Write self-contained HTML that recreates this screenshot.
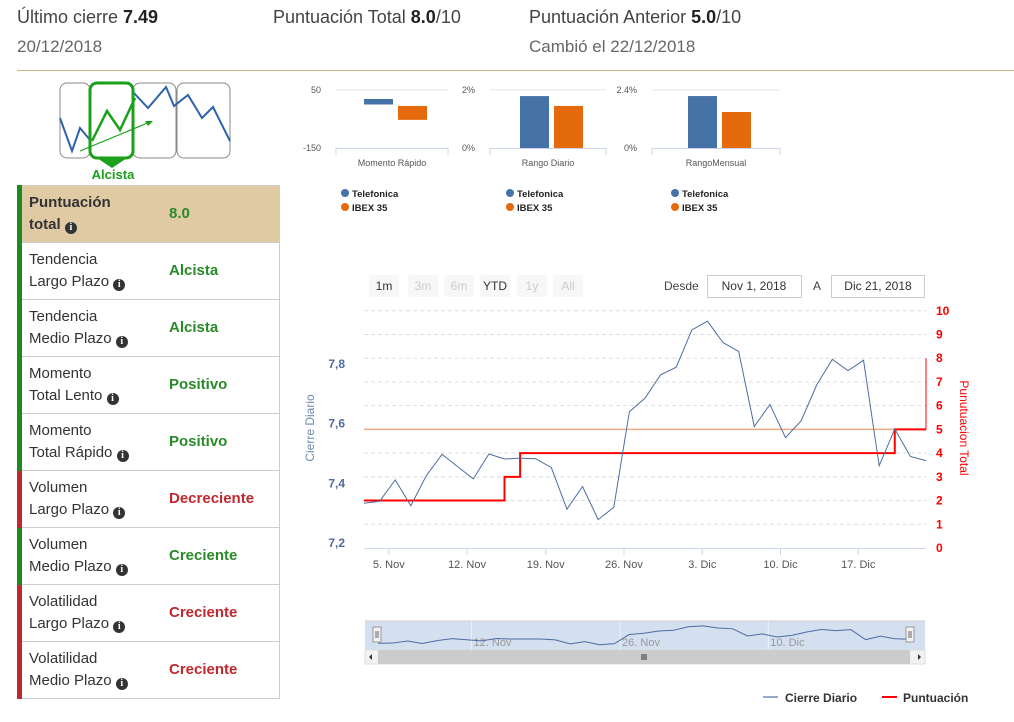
<!DOCTYPE html>
<html><head><meta charset="utf-8">
<style>
body{margin:0;width:1014px;height:722px;background:#fff;font-family:"Liberation Sans","DejaVu Sans",sans-serif;color:#444;position:relative;overflow:hidden}
.h{position:absolute;font-size:18px;color:#444}
.h b{color:#222}
.sub{position:absolute;font-size:17px;color:#666}
table{position:absolute;left:17px;top:185px;border-collapse:collapse;width:263px}
td{height:56px;border-top:1px solid #ccc;border-bottom:1px solid #ccc;font-size:15px;line-height:22px;padding:0;color:#333}
td.lab{width:140px;padding-left:7px}
td.lab div{width:128px}
td.v{font-weight:bold;color:#2a8a2a;border-right:1px solid #ccc}
td.v.red{color:#c0282d}
tr.g td.lab{border-left:5px solid #1e8a1e}
tr.r td.lab{border-left:5px solid #c0282d}
tr.top td{background:#dfcaa4;font-weight:bold}
.i{display:inline-block;width:12px;height:12px;border-radius:50%;background:#333;color:#fff;font-size:10px;line-height:12px;text-align:center;font-weight:bold;font-family:"Liberation Serif",serif;vertical-align:-1px}
</style></head><body>
<div class="h" style="left:17px;top:7px">Último cierre <b>7.49</b></div>
<div class="sub" style="left:17px;top:37px">20/12/2018</div>
<div class="h" style="left:273px;top:7px">Puntuación Total <b>8.0</b>/10</div>
<div class="h" style="left:529px;top:7px">Puntuación Anterior <b>5.0</b>/10</div>
<div class="sub" style="left:529px;top:37px">Cambió el 22/12/2018</div>
<div style="position:absolute;left:17px;top:70px;width:997px;height:1px;background:#c9b48a"></div>

<svg style="position:absolute;left:55px;top:78px" width="185" height="105">
<rect x="5" y="5" width="30" height="75" rx="7" fill="none" stroke="#888"/>
<rect x="78" y="5" width="43" height="75" rx="7" fill="none" stroke="#888"/>
<rect x="122" y="5" width="53" height="75" rx="7" fill="none" stroke="#888"/>
<polyline points="5,40 17,73 25,50 35,62" fill="none" stroke="#2d63ab" stroke-width="2"/>
<polyline points="78,14 93,30 111,9 119,28 133,17 147,40 158,29 175,63" fill="none" stroke="#2d63ab" stroke-width="2"/>
<rect x="35" y="5" width="43" height="75" rx="7" fill="none" stroke="#1aa01a" stroke-width="3"/>
<polyline points="37,63 52,33 65,52 80,20" fill="none" stroke="#1aa01a" stroke-width="2.5"/>
<line x1="25" y1="73" x2="95" y2="44" stroke="#1aa01a" stroke-width="1.2"/>
<polygon points="98,43 90,43 93,48" fill="#1aa01a"/>
<polygon points="42,80 72,80 57,90" fill="#1aa01a"/>
<text x="58" y="101" text-anchor="middle" fill="#1aa01a" font-weight="bold" font-size="13">Alcista</text>
</svg>

<table>
<tr class="top g"><td class="lab"><div>Puntuación<br>total <span class="i">i</span></div></td><td class="v">8.0</td></tr>
<tr class="g"><td class="lab"><div>Tendencia<br>Largo Plazo <span class="i">i</span></div></td><td class="v">Alcista</td></tr>
<tr class="g"><td class="lab"><div>Tendencia<br>Medio Plazo <span class="i">i</span></div></td><td class="v">Alcista</td></tr>
<tr class="g"><td class="lab"><div>Momento<br>Total Lento <span class="i">i</span></div></td><td class="v">Positivo</td></tr>
<tr class="g"><td class="lab"><div>Momento<br>Total Rápido <span class="i">i</span></div></td><td class="v">Positivo</td></tr>
<tr class="r"><td class="lab"><div>Volumen<br>Largo Plazo <span class="i">i</span></div></td><td class="v red">Decreciente</td></tr>
<tr class="g"><td class="lab"><div>Volumen<br>Medio Plazo <span class="i">i</span></div></td><td class="v">Creciente</td></tr>
<tr class="r"><td class="lab"><div>Volatilidad<br>Largo Plazo <span class="i">i</span></div></td><td class="v red">Creciente</td></tr>
<tr class="r"><td class="lab"><div>Volatilidad<br>Medio Plazo <span class="i">i</span></div></td><td class="v red">Creciente</td></tr>
</table>

<svg id="s" style="position:absolute;left:0;top:0" width="1014" height="722" font-family="Liberation Sans, DejaVu Sans, sans-serif"></svg>

<script>
// small bar charts data
const miniNames = ["Momento Rápido","Rango Diario","RangoMensual"];
const miniTop = [50, 2, 2.4];
const miniBottom = [-150, 0, 0];
const miniTopLabel = ["50","2%","2.4%"];
const miniBottomLabel = ["-150","0%","0%"];
const teleLow = [0, 0, 0];
const teleHigh = [19, 1.79, 2.15];
const ibexLow = [-53, 0, 0];
const ibexHigh = [-5, 1.45, 1.49];

// main chart data
const dates = ["1 Nov","2 Nov","5 Nov","6 Nov","7 Nov","8 Nov","9 Nov","12 Nov","13 Nov","14 Nov","15 Nov","16 Nov","19 Nov","20 Nov","21 Nov","22 Nov","23 Nov","26 Nov","27 Nov","28 Nov","29 Nov","30 Nov","3 Dic","4 Dic","5 Dic","6 Dic","7 Dic","10 Dic","11 Dic","12 Dic","13 Dic","14 Dic","17 Dic","18 Dic","19 Dic","20 Dic","21 Dic"];
const price = [7.342,7.348,7.416,7.334,7.430,7.497,7.458,7.419,7.498,7.482,7.485,7.483,7.455,7.323,7.395,7.290,7.329,7.632,7.675,7.749,7.773,7.891,7.919,7.851,7.823,7.585,7.655,7.550,7.603,7.717,7.798,7.762,7.795,7.461,7.577,7.490,7.477];
const score = [2,2,2,2,2,2,2,2,2,3,4,4,4,4,4,4,4,4,4,4,4,4,4,4,4,4,4,4,4,4,4,4,4,4,5,5,8];
const prevScore = 5;
const tickLabels = ["5. Nov","12. Nov","19. Nov","26. Nov","3. Dic","10. Dic","17. Dic"];
const tickIdx = [1.59,6.6,11.64,16.65,21.67,26.68,31.66];
const leftTicks = [7.2,7.4,7.6,7.8];
const rightTicks = [0,1,2,3,4,5,6,7,8,9,10];

const S=document.getElementById('s');
const NS="http://www.w3.org/2000/svg";
function el(t,a,txt){const e=document.createElementNS(NS,t);for(const k in a)e.setAttribute(k,a[k]);if(txt!=null)e.textContent=txt;S.appendChild(e);return e;}

// mini charts
const mx=[336,490,652], mw=[112,116,128];
miniNames.forEach((n,k)=>{
  const x0=mx[k], w=mw[k];
  const y=v=>90+(miniTop[k]-v)/(miniTop[k]-miniBottom[k])*58;
  let e=el('line',{x1:x0,x2:x0+w,y1:90,y2:90,stroke:'#e6e6e6'});
  
  e=el('line',{x1:x0,x2:x0+w,y1:148.5,y2:148.5,stroke:'#ccd6eb'});
  
  el('line',{x1:x0,x2:x0,y1:148,y2:155,stroke:'#ccd6eb'});
  el('line',{x1:x0+w,x2:x0+w,y1:148,y2:155,stroke:'#ccd6eb'});
  e=el('text',{x:x0-15,y:93,'text-anchor':'end','font-size':9,fill:'#555'},miniTopLabel[k]);
  
  e=el('text',{x:x0-15,y:151,'text-anchor':'end','font-size':9,fill:'#555'},miniBottomLabel[k]);
  
  const bx=x0+w/2-28;
  e=el('rect',{x:bx,y:y(teleHigh[k]),width:29,height:y(teleLow[k])-y(teleHigh[k]),fill:'#4572a7'});
  
  e=el('rect',{x:bx+34,y:y(ibexHigh[k]),width:29,height:y(ibexLow[k])-y(ibexHigh[k]),fill:'#e46a0c'});
  
  e=el('text',{x:x0+w/2,y:166,'text-anchor':'middle','font-size':9,fill:'#555'},n);
  
  const lx=[345,510,675][k];
  el('circle',{cx:lx,cy:193,r:4,fill:'#4572a7'});
  e=el('text',{x:lx+7,y:197,'font-size':9.5,'font-weight':'bold',fill:'#222'},'Telefonica');
  
  el('circle',{cx:lx,cy:207,r:4,fill:'#e46a0c'});
  e=el('text',{x:lx+7,y:211,'font-size':9.5,'font-weight':'bold',fill:'#222'},'IBEX 35');
  
});

// range selector
const rb=[["1m",369,true],["3m",408,false],["6m",444,false],["YTD",480,true],["1y",517,false],["All",553,false]];
rb.forEach(b=>{
  let r=el('rect',{x:b[1],y:275,width:30,height:22,fill:'#f7f7f7',rx:2});
  
  el('text',{x:b[1]+15,y:290,'text-anchor':'middle','font-size':12,fill:b[2]?'#333':'#ccc'},b[0]);
});
let t=el('text',{x:664,y:290,'font-size':12,fill:'#444'},'Desde');

t=el('rect',{x:707.5,y:275.5,width:94,height:22,fill:'#fff',stroke:'#ccc'});

el('text',{x:754,y:290,'text-anchor':'middle','font-size':12,fill:'#333'},'Nov 1, 2018');
t=el('text',{x:813,y:290,'font-size':12,fill:'#444'},'A');

t=el('rect',{x:831.5,y:275.5,width:93,height:22,fill:'#fff',stroke:'#ccc'});

el('text',{x:878,y:290,'text-anchor':'middle','font-size':12,fill:'#333'},'Dic 21, 2018');

// main chart scales
const L=364,R=926,n=dates.length;
const xs=i=>L+i*(R-L)/(n-1);
const yl=v=>548-(v-7.2)*315.5;
const ylab=v=>546-(v-7.2)*298.5;
const yr=s=>548-s*23.72;
rightTicks.forEach(s=>{
  if(s>0){let g=el('line',{x1:L,x2:R,y1:yr(s),y2:yr(s),stroke:'#ddd','stroke-dasharray':'4,3'});
  }
  let e=el('text',{x:936,y:yr(s)+4,'font-size':12,'font-weight':'bold',fill:'#f00'},String(s));
  
});
leftTicks.forEach(v=>{
  let e=el('text',{x:345,y:ylab(v)+1,'text-anchor':'end','font-size':12,'font-weight':'bold',fill:'#4d6d99'},v.toFixed(1).replace('.',','));
  
});
let a=el('line',{x1:L,x2:R,y1:548.5,y2:548.5,stroke:'#ccd6eb'});

tickLabels.forEach((lb,k)=>{
  const x=xs(tickIdx[k]);
  el('line',{x1:x,x2:x,y1:548,y2:555,stroke:'#ccd6eb'});
  let e=el('text',{x:x,y:568,'text-anchor':'middle','font-size':11,fill:'#555'},lb);
  
});
a=el('text',{transform:'translate(314,428) rotate(-90)','text-anchor':'middle','font-size':12,fill:'#6c8ab0'},'Cierre Diario');

a=el('text',{transform:'translate(960,428) rotate(90)','text-anchor':'middle','font-size':12,fill:'#f00'},'Punutuacion Total');


// previous score line
a=el('line',{x1:L,x2:R,y1:yr(prevScore),y2:yr(prevScore),stroke:'#eeaa80','stroke-width':1.5});


// score step line
let d='M'+xs(0)+','+yr(score[0]);
for(let i=1;i<n-1;i++){ d+=' L'+xs(i)+','+yr(score[i-1])+' L'+xs(i)+','+yr(score[i]); }
d+=' L'+xs(n-1)+','+yr(score[n-2]);
a=el('path',{d:d,fill:'none',stroke:'#f00','stroke-width':2});

a=el('line',{x1:xs(n-1),x2:xs(n-1),y1:yr(score[n-2]),y2:yr(score[n-1]),stroke:'#f00','stroke-width':1});


// price line
a=el('polyline',{points:price.map((v,i)=>xs(i)+','+yl(v)).join(' '),fill:'none',stroke:'#4d6d9f','stroke-width':1});


// navigator
const NL=365,NR=925,NT=621,NB=650;
a=el('rect',{x:NL,y:NT,width:NR-NL,height:NB-NT,fill:'#d4dff0'});

el('line',{x1:NL,x2:NR,y1:NT,y2:NT,stroke:'#ccc'});
const nx=i=>378+i*(910-378)/(n-1);
const ny=v=>646-(v-7.25)*30;
['12. Nov','26. Nov','10. Dic'].forEach((lb,k)=>{
  const x=nx([6.6,16.65,26.68][k])-4;
  el('line',{x1:x,x2:x,y1:NT,y2:NB,stroke:'#fff','stroke-opacity':0.6});
  el('text',{x:x+2,y:646,'font-size':11,fill:'#999'},lb);
});
a=el('polyline',{points:price.map((v,i)=>nx(i)+','+ny(v)).join(' '),fill:'none',stroke:'#4d6d9f','stroke-width':1});

[377,910].forEach(x=>{
  let h=el('rect',{x:x-4,y:627,width:8,height:15,fill:'#f2f2f2',stroke:'#999'});
  
  el('line',{x1:x-1,x2:x-1,y1:631,y2:638,stroke:'#666'});el('line',{x1:x+1,x2:x+1,y1:631,y2:638,stroke:'#666'});
});
a=el('rect',{x:NL,y:650,width:NR-NL,height:14,fill:'#f2f2f2',stroke:'#ddd'});

el('rect',{x:378,y:650,width:532,height:14,fill:'#ccc'});
el('polygon',{points:'369,657 372,654 372,660',fill:'#333'});
el('polygon',{points:'921,657 918,654 918,660',fill:'#333'});
['642','644','646'].forEach(x=>el('line',{x1:x,x2:x,y1:654,y2:660,stroke:'#333'}));

// legend
el('line',{x1:763,x2:778,y1:697,y2:697,stroke:'#97a9c9','stroke-width':2});
a=el('text',{x:785,y:702,'font-size':12,'font-weight':'bold',fill:'#333'},'Cierre Diario');

el('line',{x1:882,x2:897,y1:697,y2:697,stroke:'#f00','stroke-width':2});
a=el('text',{x:903,y:702,'font-size':12,'font-weight':'bold',fill:'#333'},'Puntuación');

</script>
</body></html>
